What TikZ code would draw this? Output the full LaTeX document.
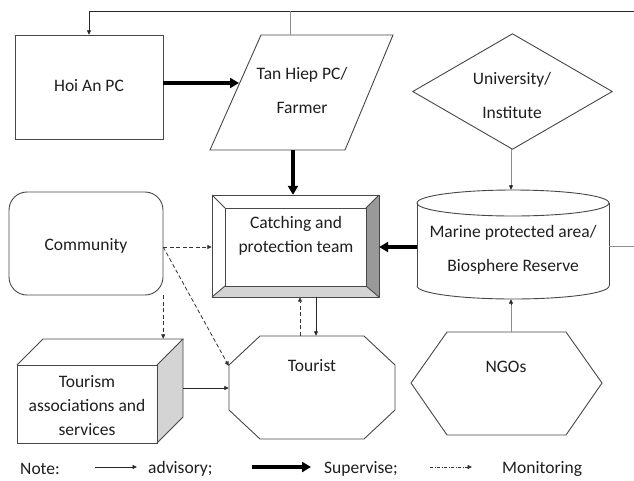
\documentclass[tikz,border=0pt]{standalone}
\usepackage{fontspec}
\setmainfont{Carlito}
\usetikzlibrary{arrows.meta,calc}
\begin{document}
\begin{tikzpicture}[x=1pt,y=-1pt,
  txt/.style={font=\fontsize{17.5}{24}\selectfont, text=black!88, align=center, inner sep=0pt},
  hold/.style={draw=none, inner sep=0pt},
  outl/.style={draw=black!72, line width=0.9pt},
  thin/.style={draw=black!85, line width=0.8pt, -{Triangle[length=4.5pt,width=4pt]}},
  grayln/.style={draw=black!45, line width=0.8pt},
  mon/.style={draw=black!80, line width=0.8pt, dash pattern=on 4pt off 2.5pt, -{Triangle[length=4.5pt,width=4pt]}},
  sup/.style={draw=black, line width=3.6pt, -{Triangle[length=9pt,width=10pt]}},
]
\useasboundingbox (0,0) rectangle (634,480);
\fill[white] (0,0) rectangle (634,480);

% ---------- holder nodes (bounding boxes of shapes) ----------
\node[hold, minimum width=148pt, minimum height=104pt] (hoi) at (89,87) {};
\node[hold, minimum width=183pt, minimum height=115pt] (tan) at (301.5,92.5) {};
\node[hold, minimum width=199pt, minimum height=115pt] (uni) at (512.5,91.5) {};
\node[hold, minimum width=154pt, minimum height=103pt] (com) at (86,243.5) {};
\node[hold, minimum width=167pt, minimum height=102pt] (cat) at (295.5,246) {};
\node[hold, minimum width=192pt, minimum height=109pt] (cyl) at (513,244.5) {};
\node[hold, minimum width=166pt, minimum height=104pt] (tas) at (100,391) {};
\node[hold, minimum width=166pt, minimum height=103pt] (tou) at (312,387.5) {};
\node[hold, minimum width=191pt, minimum height=103pt] (ngo) at (506.5,383.5) {};

% ---------- shapes ----------
% Hoi An PC
\draw[outl] (15,35) rectangle (163,139);
% Tan Hiep (parallelogram)
\draw[outl] (261,35) -- (393,35) -- (345,150) -- (210,150) -- cycle;
% University (diamond)
\draw[outl] (uni.north) -- (uni.east) -- (uni.south) -- (uni.west) -- cycle;
% Community (rounded)
\draw[outl, rounded corners=18pt] (9,192) rectangle (163,295);
% Catching team (bevel)
\fill[black!40] (379,195) -- (379,297) -- (366,286) -- (366,208) -- cycle;
\fill[black!17] (212,297) -- (379,297) -- (366,286) -- (225,286) -- cycle;
\draw[outl] (212,195) rectangle (379,297);
\draw[outl] (225,208) rectangle (366,286);
\draw[outl] (212,195) -- (225,208) (379,195) -- (366,208) (212,297) -- (225,286) (379,297) -- (366,286);
% Marine protected area (cylinder)
\draw[outl] (417,203) -- (417,286) (609,203) -- (609,286);
\draw[outl] (513,203) ellipse [x radius=96pt, y radius=13pt];
\draw[outl] (417,286) arc [start angle=180, end angle=360, x radius=96pt, y radius=13pt];
% Tourism associations (3D box)
\fill[black!17] (157,365) -- (183,339) -- (183,417) -- (157,443) -- cycle;
\draw[outl] (17,365) rectangle (157,443);
\draw[outl] (17,365) -- (43,339) -- (183,339) -- (157,365);
\draw[outl] (183,339) -- (183,417) -- (157,443);
% Tourist (octagon)
\draw[outl] (260,336) -- (364,336) -- (395,365) -- (395,410) -- (364,439) -- (260,439) -- (229,410) -- (229,365) -- cycle;
% NGOs (hexagon)
\draw[outl] (447,332) -- (566,332) -- (602,383) -- (566,435) -- (447,435) -- (411,383) -- cycle;

% ---------- texts ----------
\node[txt] (hoit) at (89,86) {Hoi An PC};
\node[txt] (tant) at (302,90) {Tan Hiep PC/\\[10pt]Farmer};
\node[txt] (unit) at (512,95) {University/\\[10pt]Institute};
\node[txt] (comt) at (86,246) {Community};
\node[txt] (catt) at (296,236) {Catching and\\protection team};
\node[txt] (cylt) at (513,250) {Marine protected area/\\[10pt]Biosphere Reserve};
\node[txt] (tast) at (87,406) {Tourism\\associations and\\services};
\node[txt] (tout) at (312,366) {Tourist};
\node[txt] (ngot) at (506,367) {NGOs};

% ---------- free-end coordinates ----------
\coordinate (loopT) at (634,11);
\coordinate (loopR) at (634,246);
\coordinate (junc) at (290,11);
\coordinate (tanL) at (239,83);

% ---------- connectors ----------
\draw[grayln] (cyl.east |- loopR) -- (loopR);
\draw[thin] (loopT) -| (hoi.north);
\draw[grayln] (junc) -- (junc |- tan.north);
\draw[sup] (hoi.east |- tanL) -- (tanL);
\draw[sup] (tan.south -| 293,0) -- (cat.north -| 293,0);
\draw[grayln] (uni.south -| 511,0) -- ($(cyl.north -| 511,0)+(0,-4)$);
\draw[thin] ($(cyl.north -| 511,0)+(0,-5)$) -- (cyl.north -| 511,0);
\draw[sup] (cyl.west |- 0,247) -- (cat.east |- 0,247);
\draw[grayln] (ngo.north -| 511,0) -- ($(cyl.south -| 511,0)+(0,4)$);
\draw[thin] ($(cyl.south -| 511,0)+(0,5)$) -- (cyl.south -| 511,0);
\draw[mon] (com.east |- 0,247) -- (cat.west |- 0,247);
\draw[mon] (com.east |- 0,247) -- (tou.west |- 0,366);
\draw[mon] (com.south east) -- (com.east |- tas.north);
\draw[thin] (tas.east |- 0,388) -- (tou.west |- 0,388);
\draw[mon] (tou.north -| 300,0) -- (cat.south -| 300,0);
\draw[thin] (cat.south -| 316,0) -- (tou.north -| 316,0);

% ---------- legend ----------
\node[txt, anchor=west] (note) at (20,469) {Note:};
\coordinate (l1a) at (95,467);
\coordinate (l1b) at (137,467);
\draw[thin] (l1a) -- (l1b);
\node[txt, anchor=west] (adv) at (148,469) {advisory;};
\coordinate (l2a) at (252,467);
\coordinate (l2b) at (311,467);
\draw[sup] (l2a) -- (l2b);
\node[txt, anchor=west] (supv) at (324,469) {Supervise;};
\coordinate (l3a) at (430,467);
\coordinate (l3b) at (472,467);
\draw[draw=black!80, line width=0.7pt, dash pattern=on 3pt off 1.5pt on 1pt off 1.5pt, -{Triangle[length=4.5pt,width=4pt]}] (l3a) -- (l3b);
\node[txt, anchor=west] (moni) at (502,469) {Monitoring};
\end{tikzpicture}
\end{document}
